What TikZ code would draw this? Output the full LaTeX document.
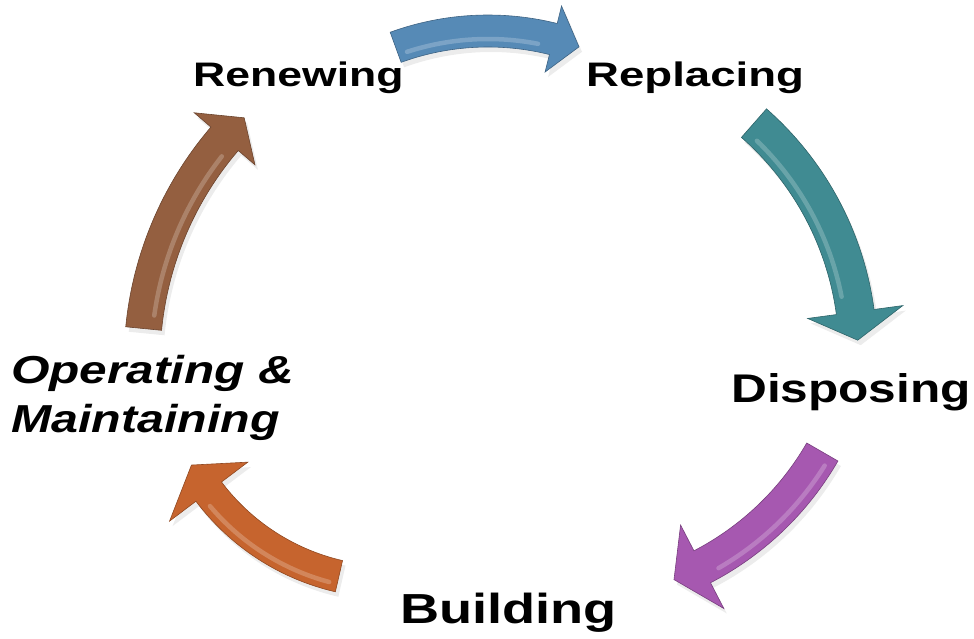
\documentclass[tikz,border=0pt]{standalone}
\usepackage{fontspec}
\setmainfont{Liberation Sans}
\usetikzlibrary{shadows}

\definecolor{replblue}{RGB}{86,138,182}
\definecolor{dispteal}{RGB}{64,139,146}
\definecolor{buildpurple}{RGB}{166,88,176}
\definecolor{operorange}{RGB}{198,100,46}
\definecolor{renewbrown}{RGB}{148,95,64}

\begin{document}
\begin{tikzpicture}[x=1pt, y=-1pt,
		phase/.style={inner sep=0pt, anchor=base west},
		ring/.style={draw=#1!72!black, line width=0.6pt, fill=#1,
			drop shadow={opacity=0.15, shadow xshift=3pt, shadow yshift=-5pt}},
		shine/.style={draw=white, opacity=0.22, line width=4.5pt, line cap=round}]
		\useasboundingbox (0,0) rectangle (974,638);

		\path[ring=replblue, shift={(488,301)}] (-110:286) arc[start angle=-110, end angle=-76, radius=286] -- (-76:304) -- (-70.3:270) -- (-76:236) -- (-76:254) arc[start angle=-76, end angle=-110, radius=254] -- cycle;
		\draw[shine, shift={(488,301)}] (-108:262) arc[start angle=-108, end angle=-79, radius=262];

		\path[ring=dispteal, shift={(552,353)}] (-48.7:325) arc[start angle=-48.7, end angle=-7.7, radius=325] -- (-7.7:354) -- (-2.4:306) -- (-7.7:258) -- (-7.7:287) arc[start angle=-7.7, end angle=-48.7, radius=287] -- cycle;
		\draw[shine, shift={(552,353)}] (-46:295) arc[start angle=-46, end angle=-11, radius=295];

		\path[ring=buildpurple, shift={(566,304)}] (30:314) arc[start angle=30, end angle=62.6, radius=314] -- (62.6:343) -- (68.6:296) -- (62.6:249) -- (62.6:278) arc[start angle=62.6, end angle=30, radius=278] -- cycle;
		\draw[shine, shift={(566,304)}] (32:305) arc[start angle=32, end angle=60, radius=305];

		\path[ring=operorange, shift={(390,355)}] (103:243) arc[start angle=103, end angle=143, radius=243] -- (143:276) -- (151:227) -- (143:178) -- (143:211) arc[start angle=143, end angle=103, radius=211] -- cycle;
		\draw[shine, shift={(390,355)}] (105:235) arc[start angle=105, end angle=140, radius=235];

		\path[ring=renewbrown, shift={(485,362)}] (185.6:361) arc[start angle=185.6, end angle=220.6, radius=361] -- (220.6:383) -- (225.4:343) -- (220.6:303) -- (220.6:325) arc[start angle=220.6, end angle=185.6, radius=325] -- cycle;
		\draw[shine, shift={(485,362)}] (188:334) arc[start angle=188, end angle=218, radius=334];

		\node[phase] (renew) at (193,86) {\fontsize{34}{40}\selectfont\bfseries\scalebox{1.31}[1]{Renewing}};
		\node[phase] (replace) at (586,86) {\fontsize{34}{40}\selectfont\bfseries\scalebox{1.34}[1]{Replacing}};
		\node[phase] (dispose) at (731,402) {\fontsize{40}{48}\selectfont\bfseries\scalebox{1.24}[1]{Disposing}};
		\node[phase] (build) at (400,623) {\fontsize{42}{50}\selectfont\bfseries\scalebox{1.29}[1]{Building}};
		\node[phase] (operate) at (11,383) {\fontsize{39}{47}\selectfont\bfseries\itshape\scalebox{1.27}[1]{Operating \&}};
		\node[phase] (maintain) at (11,432) {\fontsize{39}{47}\selectfont\bfseries\itshape\scalebox{1.24}[1]{Maintaining}};
	\end{tikzpicture}
\end{document}
